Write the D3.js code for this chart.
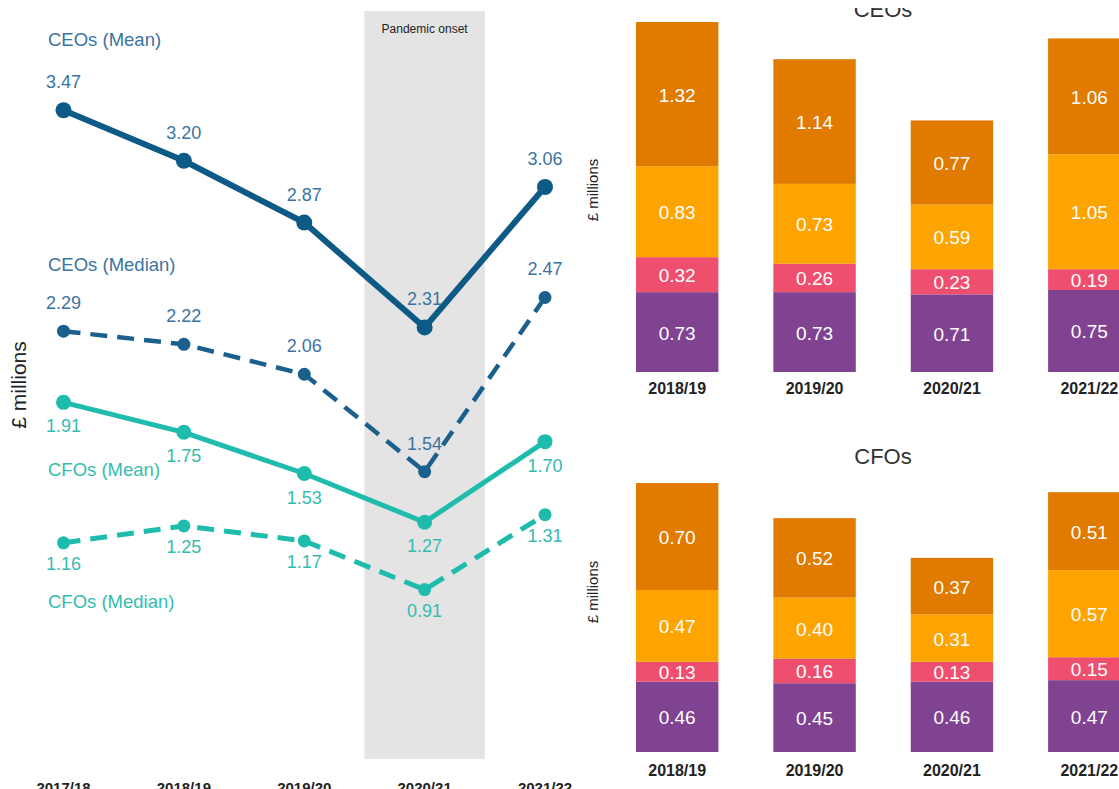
<!DOCTYPE html>
<html>
<head>
<meta charset="utf-8">
<script src="https://cdn.jsdelivr.net/npm/d3@7"></script>
<style>
  body { margin: 0; background: #fff; }
  svg { display: block; font-family: "Liberation Sans", Arial, sans-serif; }
</style>
</head>
<body>
<svg width="1119" height="789"></svg>
<script>
// line chart data
var years = ["2017/18", "2018/19", "2019/20", "2020/21", "2021/22"];
var ceoMean   = [3.47, 3.20, 2.87, 2.31, 3.06];
var ceoMedian = [2.29, 2.22, 2.06, 1.54, 2.47];
var cfoMean   = [1.91, 1.75, 1.53, 1.27, 1.70];
var cfoMedian = [1.16, 1.25, 1.17, 0.91, 1.31];
var pandemicYear = "2020/21";

// stacked bar data (bottom to top)
var barYears = ["2018/19", "2019/20", "2020/21", "2021/22"];
var parts = ["salary", "benefits", "bonus", "ltip"];
var ceoSalary   = [0.73, 0.73, 0.71, 0.75];
var ceoBenefits = [0.32, 0.26, 0.23, 0.19];
var ceoBonus    = [0.83, 0.73, 0.59, 1.05];
var ceoLtip     = [1.32, 1.14, 0.77, 1.06];
var cfoSalary   = [0.46, 0.45, 0.46, 0.47];
var cfoBenefits = [0.13, 0.16, 0.13, 0.15];
var cfoBonus    = [0.47, 0.40, 0.31, 0.57];
var cfoLtip     = [0.70, 0.52, 0.37, 0.51];

var svg = d3.select("svg");

// ---------- left: line chart ----------
var x = d3.scalePoint().domain(years).range([63.5, 545]);
var y = d3.scaleLinear().domain([0, 4]).range([760, 11]);
var step = x.step();

svg.append("rect")
    .attr("x", x(pandemicYear) - step / 2)
    .attr("y", y(4))
    .attr("width", step)
    .attr("height", y(0) - y(4) - 1)
    .attr("fill", "#e4e4e4");

svg.append("text")
    .attr("x", x(pandemicYear))
    .attr("y", 33)
    .attr("text-anchor", "middle")
    .attr("font-size", 12)
    .attr("fill", "#222")
    .text("Pandemic onset");

var series = [
  {name: "CEOs (Mean)",   values: ceoMean,   line: "#0d5a86", label: "#3b74a0", width: 6,   r: 8,   dash: null,    dy: -28, ly: 46},
  {name: "CEOs (Median)", values: ceoMedian, line: "#1b5f8c", label: "#3b74a0", width: 4.5, r: 6.5, dash: "17,10", dy: -28, ly: 271},
  {name: "CFOs (Mean)",   values: cfoMean,   line: "#1fbcae", label: "#34bcb0", width: 5,   r: 7.5, dash: null,    dy: 24,  ly: 476},
  {name: "CFOs (Median)", values: cfoMedian, line: "#1fbcae", label: "#34bcb0", width: 5,   r: 6.5, dash: "17,10", dy: 21,  ly: 608}
];

var line = d3.line()
    .x(function(d, i) { return x(years[i]); })
    .y(function(d) { return y(d); });

series.forEach(function(s) {
  svg.append("path")
      .datum(s.values)
      .attr("d", line)
      .attr("fill", "none")
      .attr("stroke", s.line)
      .attr("stroke-width", s.width)
      .attr("stroke-dasharray", s.dash);

  svg.append("g").selectAll("circle")
    .data(s.values)
    .enter().append("circle")
      .attr("cx", function(d, i) { return x(years[i]); })
      .attr("cy", function(d) { return y(d); })
      .attr("r", s.r)
      .attr("fill", s.line);

  svg.append("g").selectAll("text")
    .data(s.values)
    .enter().append("text")
      .attr("x", function(d, i) { return x(years[i]); })
      .attr("y", function(d) { return y(d) + s.dy; })
      .attr("dominant-baseline", "central")
      .attr("text-anchor", "middle")
      .attr("font-size", 18)
      .attr("fill", s.label)
      .text(function(d) { return d.toFixed(2); });

  svg.append("text")
      .attr("x", 48)
      .attr("y", s.ly)
      .attr("font-size", 18.5)
      .attr("fill", s.label)
      .text(s.name);
});

svg.append("g").selectAll("text")
  .data(years)
  .enter().append("text")
    .attr("x", function(d) { return x(d); })
    .attr("y", 793)
    .attr("text-anchor", "middle")
    .attr("font-size", 15)
    .attr("font-weight", "bold")
    .attr("fill", "#222")
    .text(function(d) { return d; });

svg.append("text")
    .attr("transform", "translate(26,385) rotate(-90)")
    .attr("text-anchor", "middle")
    .attr("font-size", 21)
    .attr("fill", "#222")
    .text("£ millions");

// ---------- right: stacked bars ----------
var partColor = d3.scaleOrdinal()
    .domain(parts)
    .range(["#7f4392", "#ef4f6e", "#fda401", "#e07b00"]);

var xb = d3.scaleBand().domain(barYears).range([608.5, 1158]).paddingInner(0.4).paddingOuter(0.2);

svg.append("defs").append("clipPath")
    .attr("id", "topclip")
  .append("rect")
    .attr("x", 0).attr("y", 8).attr("width", 1119).attr("height", 781);

function barChart(cols, top, bottom, title, titleY, axisY, labelY, clip) {
  var rows = barYears.map(function(yr, i) {
    var r = {year: yr};
    parts.forEach(function(p, j) { r[p] = cols[j][i]; });
    return r;
  });
  var stacked = d3.stack().keys(parts)(rows);
  var maxTotal = d3.max(stacked[stacked.length - 1], function(d) { return d[1]; });
  var yb = d3.scaleLinear().domain([0, maxTotal]).range([bottom, top]);

  var g = svg.append("g");

  var layer = g.selectAll("g.layer")
    .data(stacked)
    .enter().append("g")
      .attr("class", "layer")
      .attr("fill", function(d) { return partColor(d.key); });

  layer.selectAll("rect")
    .data(function(d) { return d; })
    .enter().append("rect")
      .attr("x", function(d) { return xb(d.data.year); })
      .attr("y", function(d) { return yb(d[1]); })
      .attr("width", xb.bandwidth())
      .attr("height", function(d) { return yb(d[0]) - yb(d[1]); });

  layer.selectAll("text")
    .data(function(d) { return d; })
    .enter().append("text")
      .attr("x", function(d) { return xb(d.data.year) + xb.bandwidth() / 2; })
      .attr("y", function(d) { return (yb(d[0]) + yb(d[1])) / 2 + 1; })
      .attr("dominant-baseline", "central")
      .attr("text-anchor", "middle")
      .attr("font-size", 19)
      .attr("fill", "#fff")
      .text(function(d) { return (d[1] - d[0]).toFixed(2); });

  g.selectAll("text.year")
    .data(barYears)
    .enter().append("text")
      .attr("class", "year")
      .attr("x", function(d) { return xb(d) + xb.bandwidth() / 2; })
      .attr("y", labelY)
      .attr("text-anchor", "middle")
      .attr("font-size", 16)
      .attr("font-weight", "bold")
      .attr("fill", "#222")
      .text(function(d) { return d; });

  g.append("text")
      .attr("transform", "translate(598," + axisY + ") rotate(-90)")
      .attr("text-anchor", "middle")
      .attr("font-size", 15)
      .attr("fill", "#222")
      .text("£ millions");

  g.append("text")
      .attr("x", 883)
      .attr("y", titleY)
      .attr("text-anchor", "middle")
      .attr("font-size", 22)
      .attr("fill", "#333")
      .attr("clip-path", clip ? "url(#topclip)" : null)
      .text(title);
}

barChart([ceoSalary, ceoBenefits, ceoBonus, ceoLtip], 22, 372, "CEOs", 17, 190, 394, true);
barChart([cfoSalary, cfoBenefits, cfoBonus, cfoLtip], 483, 752, "CFOs", 464, 592, 776, false);
</script>
</body>
</html>
